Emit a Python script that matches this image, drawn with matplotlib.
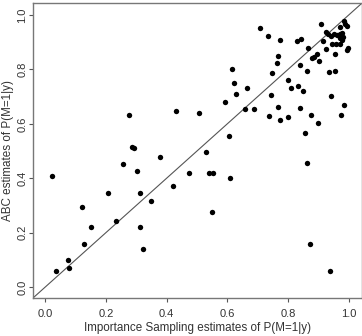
import matplotlib
matplotlib.use("Agg")
import matplotlib.pyplot as plt

plt.rcParams["font.family"] = ["Liberation Sans", "DejaVu Sans"]

# Importance sampling estimates (x) vs ABC estimates (y) of P(M=1|y)
is_est = [
    0.023, 0.379, 0.256, 0.301, 0.475, 0.420, 0.206, 0.313, 0.348, 0.120,
    0.235, 0.151, 0.314, 0.129, 0.321, 0.074, 0.078, 0.037,
    0.277, 0.430, 0.508, 0.285, 0.293,
    0.709, 0.733, 0.773, 0.830, 0.842, 0.766, 0.765, 0.840, 0.615, 0.748,
    0.863, 0.936, 0.956, 0.623, 0.801, 0.665, 0.630, 0.811, 0.834, 0.850,
    0.745, 0.942, 0.592, 0.658, 0.687, 0.766, 0.838, 0.986, 0.737, 0.775,
    0.800, 0.876, 0.976, 0.898, 0.605, 0.856, 0.531,
    0.540, 0.552, 0.609, 0.864, 0.549, 0.871, 0.939,
    0.909, 0.985, 0.988, 0.994, 0.971, 0.925, 0.932, 0.942, 0.952, 0.961,
    0.971, 0.978, 0.981, 0.971, 0.978, 0.915, 0.945, 0.958, 0.971, 0.998,
    0.925, 0.994, 0.896, 0.886, 0.879, 0.902, 0.955, 0.865,
]
abc_est = [
    0.408, 0.479, 0.452, 0.428, 0.420, 0.371, 0.347, 0.344, 0.316, 0.293,
    0.244, 0.222, 0.222, 0.160, 0.141, 0.101, 0.069, 0.059,
    0.631, 0.647, 0.639, 0.516, 0.510,
    0.953, 0.924, 0.909, 0.903, 0.913, 0.848, 0.825, 0.815, 0.801, 0.786,
    0.793, 0.789, 0.795, 0.749, 0.761, 0.730, 0.708, 0.730, 0.740, 0.719,
    0.705, 0.702, 0.681, 0.653, 0.654, 0.661, 0.659, 0.669, 0.629, 0.615,
    0.624, 0.631, 0.632, 0.603, 0.555, 0.565, 0.495,
    0.418, 0.418, 0.401, 0.455, 0.275, 0.160, 0.059,
    0.967, 0.978, 0.967, 0.960, 0.956, 0.938, 0.930, 0.923, 0.930, 0.926,
    0.930, 0.934, 0.919, 0.914, 0.908, 0.904, 0.893, 0.893, 0.893, 0.879,
    0.875, 0.871, 0.857, 0.846, 0.842, 0.831, 0.857, 0.878,
]
ticks = [0.0, 0.2, 0.4, 0.6, 0.8, 1.0]
tick_labels = ["0.0", "0.2", "0.4", "0.6", "0.8", "1.0"]

fig = plt.figure(figsize=(3.62, 3.36), dpi=100)
ax = fig.add_axes([33 / 362, 38 / 336, 328.5 / 362, 295 / 336])

ax.scatter(is_est, abc_est, s=15, color="black", linewidths=0, zorder=3)
ax.axline((0, 0), slope=1, color="#555555", linewidth=0.8)

ax.set_xlim(-0.04, 1.042)
ax.set_ylim(-0.04, 1.044)

ax.set_xticks(ticks)
ax.set_xticklabels(tick_labels)
ax.set_yticks(ticks)
ax.set_yticklabels(tick_labels, rotation=90, va="center")

for side in ax.spines.values():
    side.set_color("#777777")
    side.set_linewidth(1.0)
ax.tick_params(direction="out", length=3, width=0.8, color="#555555",
               labelsize=8, labelcolor="#333333")
ax.tick_params(axis="x", pad=5)
ax.tick_params(axis="y", pad=1.2)

ax.set_xlabel("Importance Sampling estimates of P(M=1|y)", fontsize=8.4,
              color="#333333", labelpad=2)
ax.set_ylabel("ABC estimates of P(M=1|y)", fontsize=8.4, color="#333333")
ax.yaxis.set_label_coords(-0.059, 0.5)

fig.savefig("out.png", dpi=100)
